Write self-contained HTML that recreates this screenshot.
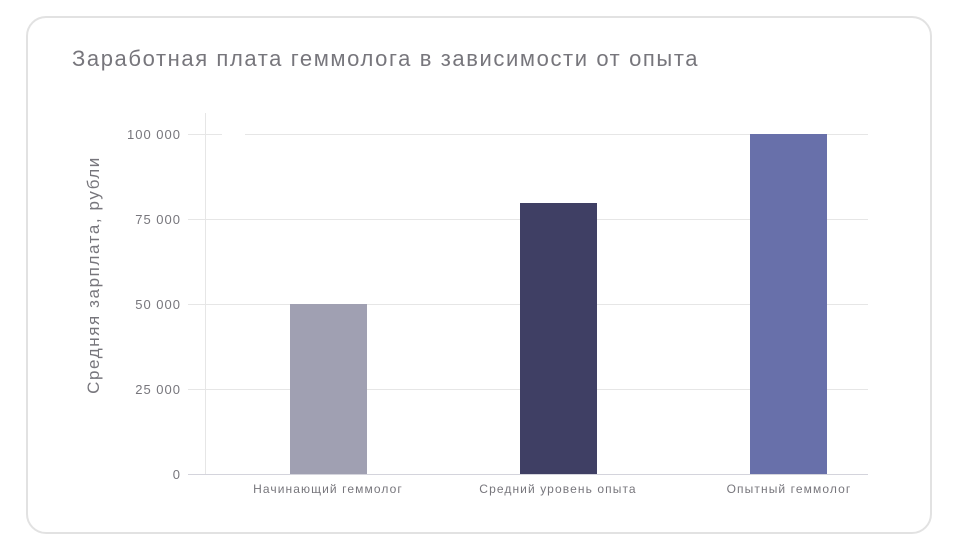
<!DOCTYPE html>
<html><head><meta charset="utf-8"><style>
body{margin:0;background:#fff;width:961px;height:550px;overflow:hidden;font-family:"Liberation Sans",sans-serif}
.card{position:absolute;left:26px;top:16px;width:906px;height:518px;border:2px solid #e2e2e2;border-radius:20px;box-sizing:border-box}
</style></head><body>
<div class="card"></div>
<svg width="961" height="550" style="position:absolute;left:0;top:0" font-family="Liberation Sans, sans-serif">
<text x="72" y="66" font-size="22" letter-spacing="1.6" fill="#77767c">Заработная плата геммолога в зависимости от опыта</text>
<g stroke="#e6e6e6" stroke-width="1">
<line x1="188" y1="134.5" x2="222" y2="134.5"/><line x1="245" y1="134.5" x2="868" y2="134.5"/>
<line x1="188" y1="219.5" x2="868" y2="219.5"/>
<line x1="188" y1="304.5" x2="868" y2="304.5"/>
<line x1="188" y1="389.5" x2="868" y2="389.5"/>
<line x1="205.5" y1="113" x2="205.5" y2="474"/>
</g>
<line x1="188" y1="474.5" x2="868" y2="474.5" stroke="#d4d4dc"/>
<rect x="290" y="304" width="77" height="170" fill="#a0a0b2"/>
<rect x="520" y="203" width="77" height="271" fill="#3f3f64"/>
<rect x="750" y="134" width="77" height="340" fill="#6870aa"/>
<g font-size="13" fill="#77767c" text-anchor="end" letter-spacing="1">
<text x="181" y="139">100 000</text><text x="181" y="224">75 000</text><text x="181" y="309">50 000</text><text x="181" y="394">25 000</text><text x="181" y="479">0</text>
</g>
<g font-size="12" fill="#77767c" text-anchor="middle" letter-spacing="1.1">
<text x="328" y="493">Начинающий геммолог</text><text x="558" y="493">Средний уровень опыта</text><text x="789" y="493">Опытный геммолог</text>
</g>
<text transform="translate(99,275) rotate(-90)" font-size="17" letter-spacing="1.6" fill="#77767c" text-anchor="middle">Средняя зарплата, рубли</text>
</svg>
</body></html>
